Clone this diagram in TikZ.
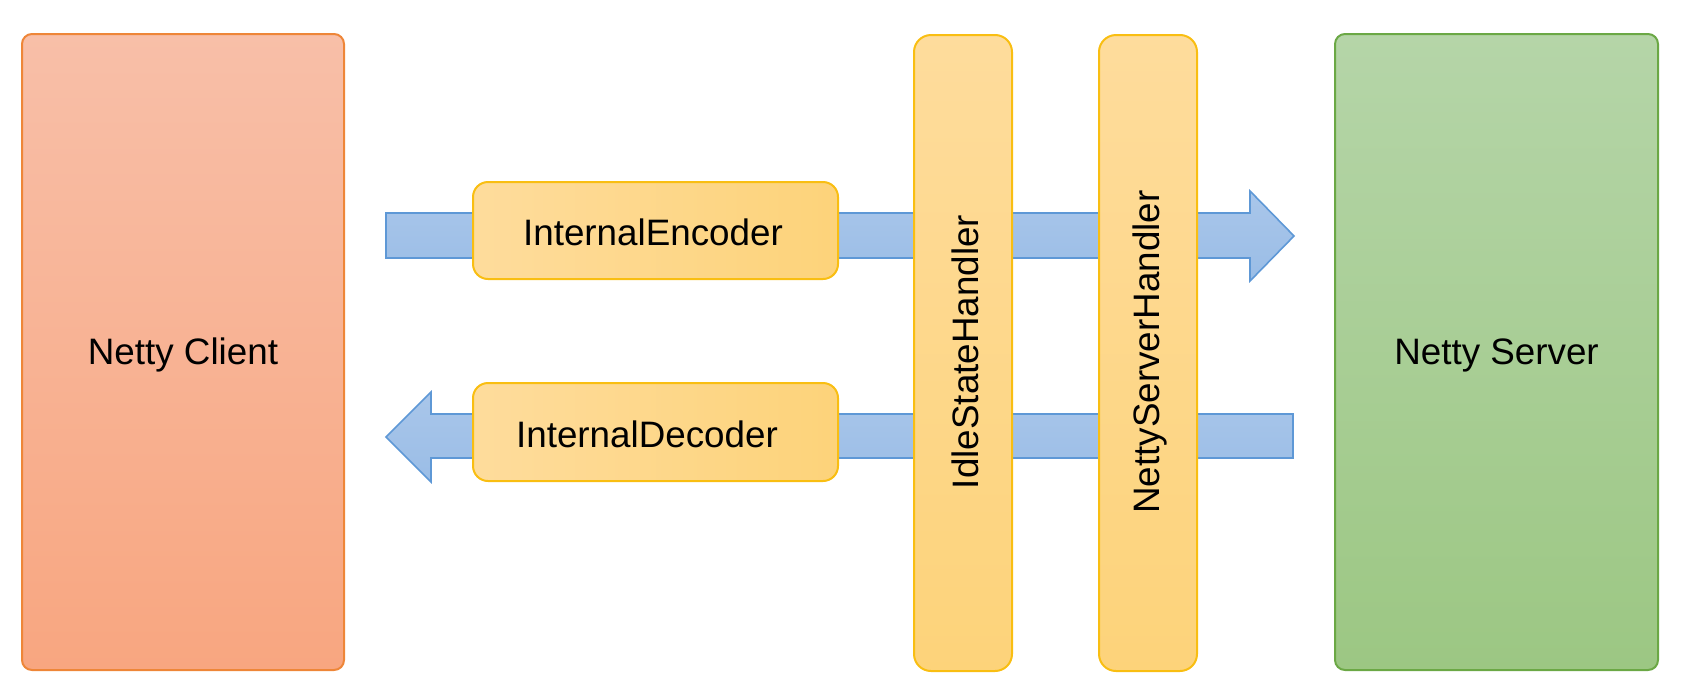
\documentclass[tikz,border=0pt]{standalone}
\usepackage{fontspec}
\setmainfont{Liberation Sans}
\definecolor{clientTop}{HTML}{F8BFA8}
\definecolor{clientBot}{HTML}{F8A680}
\definecolor{clientLine}{HTML}{EE8638}
\definecolor{yelTop}{HTML}{FEDC9C}
\definecolor{yelBot}{HTML}{FDD37A}
\definecolor{yelLine}{HTML}{F9BE12}
\definecolor{grnTop}{HTML}{B5D5A8}
\definecolor{grnBot}{HTML}{9CC783}
\definecolor{grnLine}{HTML}{6BA845}
\definecolor{bluTop}{HTML}{A9C6EA}
\definecolor{bluBot}{HTML}{9ABDE6}
\definecolor{bluLine}{HTML}{5E98D6}
\tikzset{
  lbl/.style={font=\fontsize{36.8}{42}\selectfont, text=black, inner sep=0pt},
  bigbox/.style={rounded corners=10pt, line width=2pt, inner sep=0pt},
  clientbox/.style={bigbox, draw=clientLine, top color=clientTop, bottom color=clientBot},
  serverbox/.style={bigbox, draw=grnLine, top color=grnTop, bottom color=grnBot},
  handlerbox/.style={rounded corners=17pt, line width=2pt, draw=yelLine, top color=yelTop, bottom color=yelBot, inner sep=0pt},
  codecbox/.style={rounded corners=15pt, line width=2pt, draw=yelLine, left color=yelTop, right color=yelBot, inner sep=0pt},
  flowarrow/.style={line width=1.6pt, draw=bluLine, top color=bluTop, bottom color=bluBot, line join=miter},
}
\begin{document}
\begin{tikzpicture}[x=1pt,y=-1pt]
\useasboundingbox (0,0) rectangle (1686,694);
% arrows (drawn first, under the boxes)
\coordinate (encA) at (386,213);
\coordinate (encTip) at (1294,236);
\coordinate (decTip) at (386,437);
\coordinate (decE) at (1293,414);
\draw[flowarrow] (encA) -- (1250,213) -- (1250,191) -- (encTip) -- (1250,281) -- (1250,258) -- (386,258) -- cycle;
\draw[flowarrow] (decTip) -- (431,392) -- (431,414) -- (decE) -- (1293,458) -- (431,458) -- (431,482) -- cycle;
% boxes
\node[clientbox, minimum width=322pt, minimum height=636pt] (client) at (183,352) {};
\node[lbl] (clientlbl) at (183,355) {Netty Client};
\node[serverbox, minimum width=323pt, minimum height=636pt] (server) at (1496.5,352) {};
\node[lbl] (serverlbl) at (1496.5,355) {Netty Server};
\node[codecbox, minimum width=365pt, minimum height=97pt] (enc) at (655.5,230.5) {};
\node[lbl] (enclbl) at (653,232) {InternalEncoder};
\node[codecbox, minimum width=365pt, minimum height=98pt] (dec) at (655.5,432) {};
\node[lbl] (declbl) at (647,434) {InternalDecoder};
\node[handlerbox, minimum width=98pt, minimum height=636pt] (idle) at (963,353) {};
\node[lbl, rotate=90] (idlelbl) at (965,352) {IdleStateHandler};
\node[handlerbox, minimum width=98pt, minimum height=636pt] (nsh) at (1148,353) {};
\node[lbl, rotate=90] (nshlbl) at (1150,352) {NettyServerHandler};
\end{tikzpicture}
\end{document}
